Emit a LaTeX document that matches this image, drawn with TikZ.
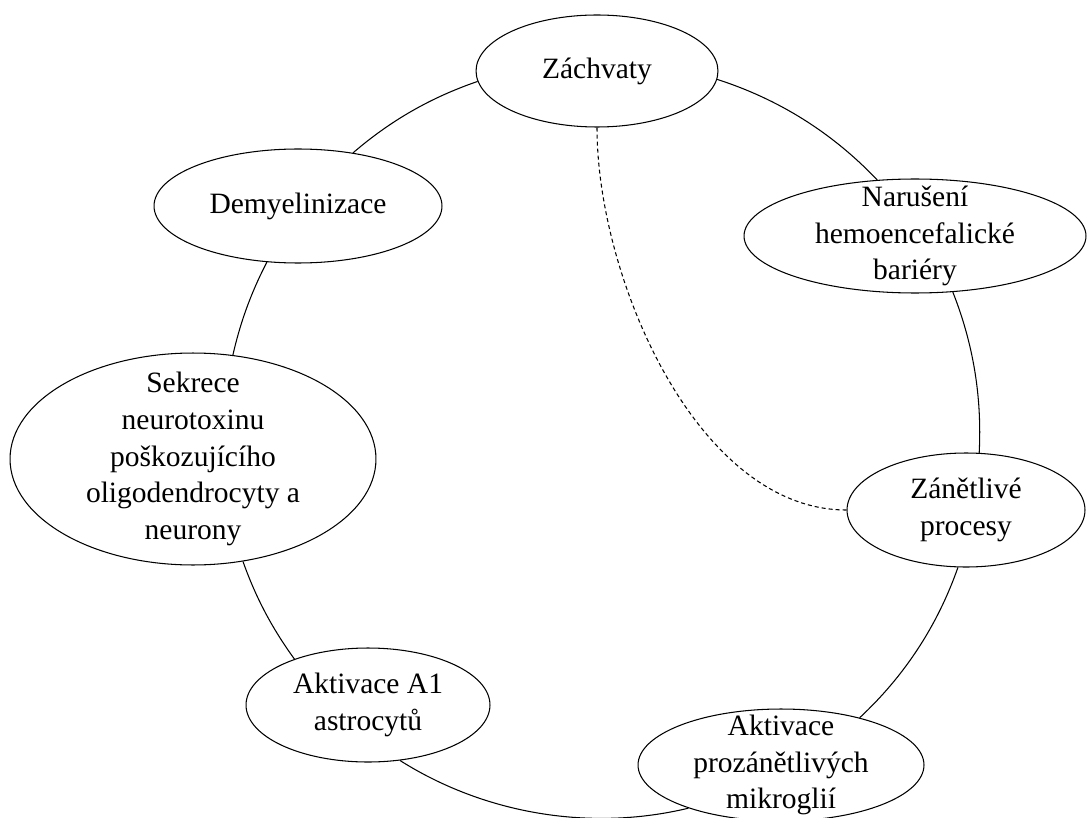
\documentclass[tikz,border=0pt]{standalone}
\usepackage{fontspec}
\setmainfont{Liberation Serif}
\usetikzlibrary{shapes.geometric}
\tikzset{
  bubble/.style={draw=black,fill=white,ellipse,line width=0.6pt,inner sep=0pt},
  txt/.style={align=center,font=\fontsize{16.8}{20.8}\selectfont},
  ring/.style={draw=black,line width=0.6pt,bend right=#1,looseness=0.88},
  dashlink/.style={draw=black,line width=0.6pt,dash pattern=on 2.3pt off 1.7pt}
}
\begin{document}
\begin{tikzpicture}[x=0.02cm,y=-0.02cm]
  \fill[white] (0,0) rectangle (1087,817);
  \useasboundingbox (0,0) rectangle (1087,817);

  % states round the cycle
  \node[bubble,minimum width=4.84cm,minimum height=2.24cm,
    label={[txt]center:Záchvaty}] (zach) at (597,71) {};
  \node[bubble,minimum width=5.76cm,minimum height=2.28cm,
    label={[txt]center:Demyelinizace}] (demy) at (298,206) {};
  \node[bubble,minimum width=6.84cm,minimum height=2.28cm,
    label={[txt]center:Narušení\\hemoencefalické\\bariéry}] (bariera) at (915,236) {};
  \node[bubble,minimum width=7.32cm,minimum height=4.24cm,
    label={[txt]center:Sekrece\\neurotoxinu\\poškozujícího\\oligodendrocyty a\\neurony}] (sekr) at (193,459) {};
  \node[bubble,minimum width=4.76cm,minimum height=2.28cm,
    label={[txt]center:Zánětlivé\\procesy}] (zanet) at (966,510) {};
  \node[bubble,minimum width=4.88cm,minimum height=2.28cm,
    label={[txt]center:Aktivace A1\\astrocytů}] (astro) at (368,705) {};
  \node[bubble,minimum width=5.72cm,minimum height=2.24cm,
    label={[txt]center:Aktivace\\prozánětlivých\\mikroglií}] (mikro) at (781,765) {};

  % links along the ring
  \draw[ring=10.9] (zach.185) to (demy.44);
  \draw[ring=7.3] (demy.241) to (sekr.69);
  \draw[ring=8.3] (sekr.-64) to (astro.148);
  \draw[ring=22.9] (astro.-60) to (mikro.205);
  \draw[ring=13.8] (mikro.31) to (zanet.262);
  \draw[ring=12.2] (zanet.77) to (bariera.-56);
  \draw[ring=14.3] (bariera.124) to (zach.-4);

  % dashed shortcut
  \draw[dashlink] (zach.270) to[out=-90,in=180,looseness=0.84] (zanet.180);
\end{tikzpicture}
\end{document}
